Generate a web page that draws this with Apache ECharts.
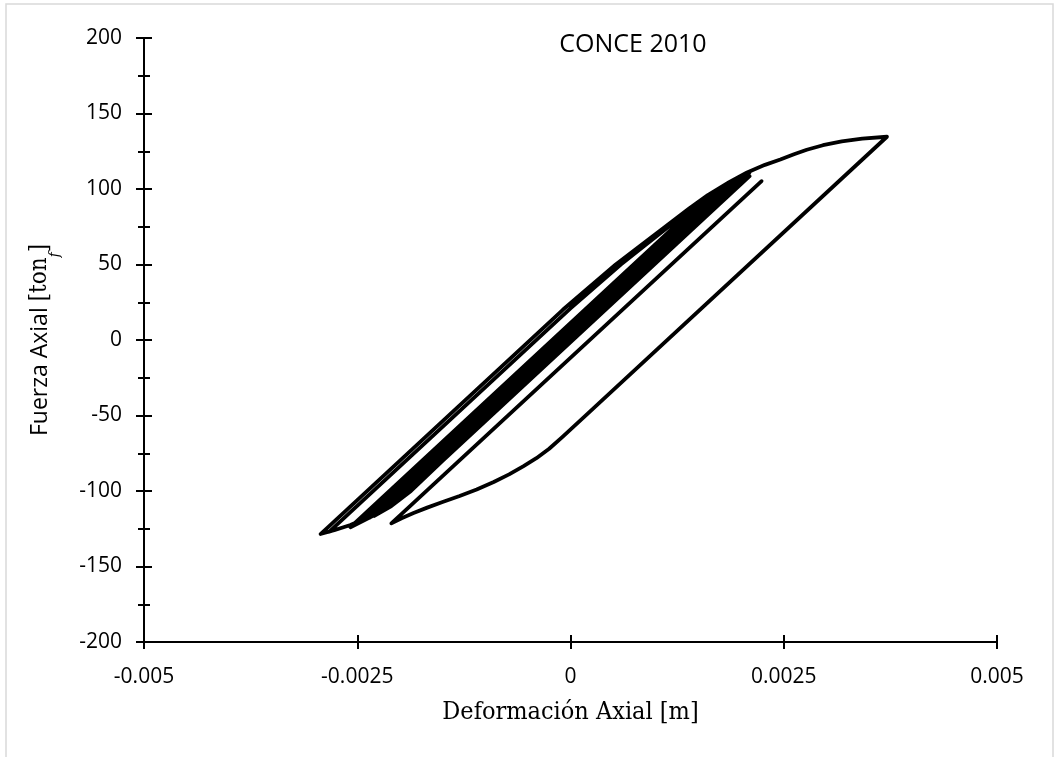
<!DOCTYPE html>
<html>
<head>
<meta charset="utf-8">
<title>CONCE 2010</title>
<script src="https://cdn.jsdelivr.net/npm/echarts@6/dist/echarts.min.js"></script>
<style>
  html, body { margin: 0; padding: 0; background: #ffffff; }
  #chart { width: 1059px; height: 757px; }
</style>
</head>
<body>
<div id="chart"></div>
<script>
// Axis ranges and tick labels
const xTicks = [-0.005, -0.0025, 0, 0.0025, 0.005];
const xTickLabels = ['-0.005', '-0.0025', '0', '0.0025', '0.005'];
const yTicks = [-200, -150, -100, -50, 0, 50, 100, 150, 200];

// Force–deformation history [deformation (m), axial force (tonf)], in time order.
// Early cycles around the origin
const cyclesA = [
  [-0.00012, 0], [0.00122, 70], [0.00143, 80], [0.00162, 90], [0.0019, 104],
  [-0.00162, -80], [-0.00202, -100], [-0.00222, -110], [-0.0024, -118],
  [0.0012, 70], [0.00142, 81], [0.00164, 92], [0.00185, 102], [0.00205, 110],
  [-0.00158, -80], [-0.002, -100], [-0.00226, -113], [-0.0025, -121],
  [0.00115, 70], [0.00141, 83], [0.00166, 95], [0.00188, 103], [0.0021, 108.5]
];
const cyclesA2 = [
  [-0.0015, -80], [-0.00187, -100], [-0.0021, -110], [-0.0023, -116.5],
  [0.00127, 70], [0.00149, 81], [0.0017, 91], [0.0019, 100], [0.00205, 106],
  [-0.0015, -80], [-0.0019, -100], [-0.00216, -112], [-0.00258, -124],
  [0.00112, 70], [0.00135, 82], [0.00158, 93], [0.00182, 102], [0.00207, 110.5]
];
// First compression excursion and reload
const excursion1 = [
  [-0.00155, -80], [-0.00178, -92], [-0.00193, -100], [-0.00216, -111], [-0.00235, -117.5],
  [-0.00255, -122], [-0.00283, -127],
  [0.0, 21], [0.00059, 50], [0.00086, 62], [0.00115, 75], [0.00141, 87],
  [0.00162, 95.5], [0.00185, 103.5], [0.00207, 110.5]
];
// Second group of cycles
const cyclesB = [
  [-0.00157, -80], [-0.00195, -100], [-0.0022, -111], [-0.0024, -117],
  [0.00118, 70], [0.00139, 80], [0.00158, 90], [0.00178, 99], [0.00195, 106],
  [-0.00161, -80], [-0.00201, -100], [-0.0023, -114], [-0.0025, -121.5],
  [0.00116, 70], [0.00138, 81], [0.0016, 92], [0.00182, 101], [0.00203, 109],
  [-0.00158, -80], [-0.00197, -100], [-0.0023, -114],
  [0.00122, 70], [0.00145, 82], [0.00168, 93], [0.0019, 103], [0.0021, 111]
];
// Largest compression peak, then the largest tension peak
const excursion2 = [
  [-0.00155, -80], [-0.00178, -92], [-0.00192, -99], [-0.00205, -104.5], [-0.00222, -112],
  [-0.0024, -118], [-0.00258, -122.5], [-0.00277, -126], [-0.00293, -128.5],
  [-0.00009, 20], [0.00053, 50], [0.00081, 62], [0.00111, 75], [0.00139, 87],
  [0.00161, 96], [0.00186, 104.5], [0.00207, 111], [0.00228, 116], [0.00246, 119.5],
  [0.00262, 123], [0.00277, 126], [0.00296, 129], [0.00318, 131.5], [0.00342, 133.3],
  [0.00371, 134.6]
];
// Unloading from the tension peak and final reload
const finalBranch = [
  [0.000205, -48.6], [-0.0001, -64.5], [-0.00025, -72], [-0.0004, -78.3], [-0.00055, -83.5],
  [-0.00072, -89], [-0.0009, -94], [-0.0011, -99], [-0.0013, -103.3], [-0.0015, -107.3],
  [-0.00168, -111], [-0.00184, -114.6], [-0.00198, -118], [-0.0021, -121.4],
  [0.00224, 105.2]
];

const history = [].concat(cyclesA, cyclesA2, excursion1, cyclesB, excursion2, finalBranch);

const tickFont = { fontFamily: 'Open Sans', fontSize: 21, color: '#000' };
const axisLineStyle = { color: '#000', width: 2 };
const serifFamily = 'DejaVu Serif Condensed';

function fmtX(v) {
  for (let i = 0; i < xTicks.length; i++) {
    if (Math.abs(v - xTicks[i]) < 1e-9) return xTickLabels[i];
  }
  return '';
}

const chart = echarts.init(document.getElementById('chart'), null, { renderer: 'canvas' });

const baseX = { type: 'value', min: xTicks[0], max: xTicks[xTicks.length - 1], interval: 0.0025 };
const baseY = { type: 'value', min: yTicks[0], max: yTicks[yTicks.length - 1], interval: 50 };

chart.setOption({
  animation: false,
  backgroundColor: '#ffffff',
  title: {
    text: 'CONCE 2010',
    left: 628,
    top: 27,
    textAlign: 'center',
    textStyle: { fontFamily: 'Open Sans', fontSize: 25, fontWeight: 'normal', color: '#000' }
  },
  graphic: [{
    type: 'rect',
    shape: { x: 6, y: 4, width: 1047, height: 800 },
    style: { fill: 'none', stroke: '#d9d9d9', lineWidth: 1.5 },
    silent: true
  }],
  grid: { left: 144, right: 62, top: 38, bottom: 115, containLabel: false },
  xAxis: [
    Object.assign({}, baseX, {
      position: 'bottom',
      axisLine: { show: true, onZero: false, lineStyle: axisLineStyle },
      axisTick: { show: true, inside: false, length: 7, lineStyle: axisLineStyle },
      axisLabel: Object.assign({ margin: 25, formatter: fmtX, showMinLabel: true, showMaxLabel: true }, tickFont),
      splitLine: { show: false },
      name: 'Deformación Axial [m]',
      nameLocation: 'middle',
      nameGap: 58,
      nameTextStyle: { fontFamily: serifFamily, fontSize: 25, color: '#000' }
    }),
    Object.assign({}, baseX, {
      position: 'bottom',
      axisLine: { show: false, onZero: false },
      axisTick: { show: true, inside: true, length: 7, lineStyle: axisLineStyle },
      axisLabel: { show: false },
      splitLine: { show: false }
    })
  ],
  yAxis: [
    Object.assign({}, baseY, {
      position: 'left',
      axisLine: { show: true, onZero: false, lineStyle: axisLineStyle },
      axisTick: { show: true, inside: false, length: 8, lineStyle: axisLineStyle },
      minorTick: { show: true, splitNumber: 2, length: 6, lineStyle: axisLineStyle },
      axisLabel: Object.assign({ margin: 22 }, tickFont),
      splitLine: { show: false },
      minorSplitLine: { show: false },
      name: '{a|Fuerza Axial }{b|[ton}{c|f}{b|]}',
      nameLocation: 'middle',
      nameRotate: 90,
      nameGap: 88,
      nameTextStyle: {
        fontFamily: 'Open Sans',
        fontSize: 23,
        color: '#000',
        rich: {
          a: { fontFamily: 'Open Sans', fontSize: 23, color: '#000', lineHeight: 32 },
          b: { fontFamily: serifFamily, fontSize: 24, color: '#000', lineHeight: 32 },
          c: { fontFamily: serifFamily, fontStyle: 'italic', fontSize: 15, color: '#000', lineHeight: 32, verticalAlign: 'bottom', padding: [0, 0, -7, 0] }
        }
      }
    }),
    Object.assign({}, baseY, {
      position: 'left',
      axisLine: { show: false, onZero: false },
      axisTick: { show: true, inside: true, length: 8, lineStyle: axisLineStyle },
      minorTick: { show: true, splitNumber: 2, length: 6, lineStyle: axisLineStyle },
      axisLabel: { show: false },
      splitLine: { show: false },
      minorSplitLine: { show: false }
    })
  ],
  series: [{
    type: 'line',
    xAxisIndex: 0,
    yAxisIndex: 0,
    data: history,
    showSymbol: false,
    symbol: 'none',
    smooth: false,
    lineStyle: { color: '#000', width: 3.8, join: 'round', cap: 'round' },
    silent: true
  }]
});
</script>
</body>
</html>
